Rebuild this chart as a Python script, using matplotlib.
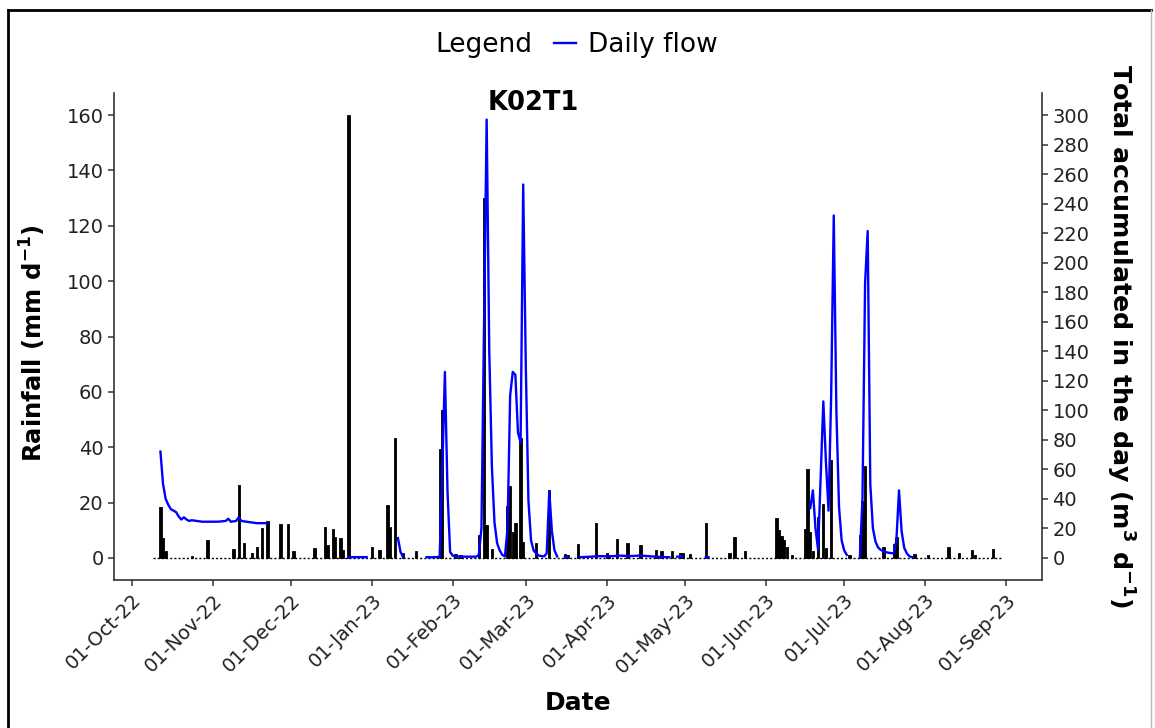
import numpy as np
import pandas as pd
import matplotlib
matplotlib.use('Agg')
import matplotlib.pyplot as plt
import matplotlib.dates as mdates
from matplotlib.lines import Line2D

plt.rcParams['font.family'] = ['DejaVu Sans']
plt.rcParams['mathtext.default'] = 'regular'

# Precipitação diária (mm/d)
rain_dates = ['2022-10-12', '2022-10-13', '2022-10-14', '2022-10-24', '2022-10-30',
              '2022-11-09', '2022-11-11', '2022-11-13', '2022-11-16', '2022-11-18',
              '2022-11-20', '2022-11-22', '2022-11-27', '2022-11-30', '2022-12-02',
              '2022-12-10', '2022-12-14', '2022-12-15', '2022-12-17', '2022-12-18',
              '2022-12-20', '2022-12-21', '2022-12-23', '2023-01-01', '2023-01-04',
              '2023-01-07', '2023-01-08', '2023-01-10', '2023-01-13', '2023-01-18',
              '2023-01-27', '2023-01-28', '2023-02-02', '2023-02-04', '2023-02-11',
              '2023-02-13', '2023-02-14', '2023-02-16', '2023-02-22', '2023-02-23',
              '2023-02-24', '2023-02-25', '2023-02-27', '2023-02-28', '2023-03-05',
              '2023-03-10', '2023-03-16', '2023-03-17', '2023-03-21', '2023-03-28',
              '2023-04-01', '2023-04-02', '2023-04-05', '2023-04-09', '2023-04-14',
              '2023-04-20', '2023-04-22', '2023-04-26', '2023-04-29', '2023-04-30',
              '2023-05-03', '2023-05-09', '2023-05-18', '2023-05-20', '2023-05-24',
              '2023-06-05', '2023-06-06', '2023-06-07', '2023-06-08', '2023-06-09',
              '2023-06-11', '2023-06-16', '2023-06-17', '2023-06-18', '2023-06-19',
              '2023-06-21', '2023-06-23', '2023-06-24', '2023-06-26', '2023-07-03',
              '2023-07-07', '2023-07-08', '2023-07-09', '2023-07-16', '2023-07-20',
              '2023-07-21', '2023-07-28', '2023-08-02', '2023-08-10', '2023-08-14',
              '2023-08-19', '2023-08-20', '2023-08-27']
rain_mm = [18.4, 7.2, 2.3, 0.8, 6.3,
           3.1, 26.4, 5.3, 1.8, 4.1,
           10.7, 13.5, 12.2, 12.2, 2.6,
           3.5, 11.3, 4.7, 10.5, 7.7,
           7.1, 2.9, 160.0, 4.1, 2.9,
           19.2, 11.3, 43.3, 1.7, 2.3,
           39.3, 53.6, 1.4, 1.0, 8.3,
           130.2, 11.9, 3.1, 18.6, 26.1,
           9.5, 12.6, 43.3, 5.9, 5.5,
           24.4, 1.4, 1.0, 5.1, 12.5,
           1.9, 1.0, 6.9, 5.5, 4.7,
           2.7, 2.3, 2.6, 1.7, 1.9,
           1.4, 12.5, 1.9, 7.5, 2.3,
           14.4, 9.9, 8.0, 6.3, 4.1,
           1.1, 10.5, 32.1, 9.5, 2.6,
           14.7, 19.5, 3.5, 35.5, 1.1,
           8.3, 20.4, 33.3, 3.9, 4.9,
           7.7, 1.4, 1.1, 4.1, 1.7,
           2.9, 1.0, 3.3]

# periodo com registro de chuva (linha de zero)
record_start = '2022-10-09'
record_end = '2023-08-31'

# Vazao diaria (m3/d), nan = sem dado
flow_dates = ['2022-10-12', '2022-10-13', '2022-10-14', '2022-10-15', '2022-10-16',
              '2022-10-17', '2022-10-18', '2022-10-19', '2022-10-20', '2022-10-21',
              '2022-10-22', '2022-10-23', '2022-10-24', '2022-10-26', '2022-10-28',
              '2022-10-31', '2022-11-03', '2022-11-06', '2022-11-07', '2022-11-08',
              '2022-11-10', '2022-11-11', '2022-11-12', '2022-11-14', '2022-11-16',
              '2022-11-18', '2022-11-20', '2022-11-22', '2022-11-23',
              '2022-12-23', '2022-12-26', '2022-12-30', '2022-12-31',
              '2023-01-11', '2023-01-12', '2023-01-13', '2023-01-14',
              '2023-01-22', '2023-01-24', '2023-01-26', '2023-01-27', '2023-01-28',
              '2023-01-29', '2023-01-30', '2023-01-31', '2023-02-01', '2023-02-02',
              '2023-02-06', '2023-02-10', '2023-02-11', '2023-02-12', '2023-02-13',
              '2023-02-14', '2023-02-15', '2023-02-16', '2023-02-17', '2023-02-18',
              '2023-02-19', '2023-02-20', '2023-02-21', '2023-02-22', '2023-02-23',
              '2023-02-24', '2023-02-25', '2023-02-26', '2023-02-27', '2023-02-28',
              '2023-03-01', '2023-03-02', '2023-03-03', '2023-03-04', '2023-03-05',
              '2023-03-06', '2023-03-08', '2023-03-09', '2023-03-10', '2023-03-11',
              '2023-03-12', '2023-03-13', '2023-03-14',
              '2023-03-16', '2023-03-17', '2023-03-18',
              '2023-03-22', '2023-03-26', '2023-03-29', '2023-04-02', '2023-04-06',
              '2023-04-10', '2023-04-14', '2023-04-18', '2023-04-22', '2023-04-25',
              '2023-04-26',
              '2023-04-28', '2023-04-30', '2023-05-01',
              '2023-05-09', '2023-05-10', '2023-05-11',
              '2023-06-18', '2023-06-19', '2023-06-20', '2023-06-21', '2023-06-22',
              '2023-06-23', '2023-06-24', '2023-06-25', '2023-06-26', '2023-06-27',
              '2023-06-28', '2023-06-29', '2023-06-30', '2023-07-01', '2023-07-02',
              '2023-07-03',
              '2023-07-07', '2023-07-08', '2023-07-09', '2023-07-10', '2023-07-11',
              '2023-07-12', '2023-07-13', '2023-07-14', '2023-07-15', '2023-07-17',
              '2023-07-19', '2023-07-20', '2023-07-21', '2023-07-22', '2023-07-23',
              '2023-07-24', '2023-07-25', '2023-07-26', '2023-07-27']
flow_m3 = [72, 50, 40, 36, 33,
           32, 31, 28, 26, 27.5,
           26, 25, 25.5, 25, 24.5,
           24.5, 24.5, 25, 26.5, 24.5,
           25, 27.5, 25, 24.5, 24,
           23.5, 23.5, 23.5, np.nan,
           0.5, 0.5, 0.5, np.nan,
           13.4, 4, 0.5, np.nan,
           0.5, 0.4, 0.5, 1, 60,
           126, 45, 4, 1.5, 1,
           0.8, 0.8, 2, 20, 160,
           297, 140, 62, 24, 10,
           5, 2, 1, 20, 110,
           126, 124, 85, 78, 253,
           130, 39, 12, 5, 3,
           1.5, 1, 3, 45, 18,
           5, 1, np.nan,
           0.5, 0.5, np.nan,
           0.5, 0.8, 1.2, 1.0, 1.5,
           1.2, 1.6, 1.0, 0.6, 0.4,
           np.nan,
           0.8, 1.2, np.nan,
           0.5, 0.5, np.nan,
           33.7, 45.7, 20, 5.4, 55,
           106, 65, 32, 110, 232,
           100, 35, 12, 5, 2,
           np.nan,
           1, 40, 186, 221.5, 50,
           20, 11, 7, 5.4, 3.8,
           3.2, 3, 12, 45.7, 18,
           6.8, 3, 1, 0.5]

title = 'K02T1'
k = 300 / 160  # escala do eixo secundario

fig = plt.figure(figsize=(11.55, 7.28), dpi=100)
ax = fig.add_axes([114 / 1155, 1 - 580 / 728, (1042 - 114) / 1155, (580 - 93) / 728])

ax.bar(pd.to_datetime(rain_dates), rain_mm, width=0.9, color='black',
       edgecolor='black', linewidth=0.6, zorder=2)
ax.plot(pd.to_datetime([record_start, record_end]), [0, 0], color='black',
        lw=1.0, dashes=(1.5, 1.5), zorder=1)

ax2 = ax.twinx()
line, = ax2.plot(pd.to_datetime(flow_dates), flow_m3, color='blue', lw=1.7)

ax.set_ylim(-8, 168)
ax2.set_ylim(-8 * k, 168 * k)
ax.set_xlim(pd.Timestamp('2022-09-24 05:00'), pd.Timestamp('2023-09-14 19:00'))
ax.set_yticks(range(0, 161, 20))
ax2.set_yticks(range(0, 301, 20))

ax.xaxis.set_major_locator(mdates.MonthLocator())
ax.xaxis.set_major_formatter(mdates.DateFormatter('%d-%b-%y'))
for lbl in ax.get_xticklabels():
    lbl.set_rotation(45)
    lbl.set_ha('right')
    lbl.set_rotation_mode('anchor')

for a in (ax, ax2):
    a.spines['top'].set_visible(False)
    a.tick_params(labelsize=14, labelcolor='#222222', color='#333333',
                  length=4, width=1.1)
    for s in a.spines.values():
        s.set_color('#333333')
        s.set_linewidth(1.2)
ax.spines['right'].set_visible(False)
ax2.spines['left'].set_visible(False)
ax2.spines['bottom'].set_visible(False)

fig.text(33 / 1155, 1 - 343 / 728, 'Rainfall (mm d$^{-1}$)', rotation=90,
         ha='center', va='center', fontsize=17.5, fontweight='bold')
fig.text(1120 / 1155, 1 - 336 / 728, 'Total accumulated in the day (m$^{3}$ d$^{-1}$)',
         rotation=270, ha='center', va='center', fontsize=18.3, fontweight='bold')
fig.text(578 / 1155, 1 - 703 / 728, 'Date', ha='center', va='center',
         fontsize=18, fontweight='bold')
fig.text(533 / 1155, 1 - 103 / 728, title, ha='center', va='center',
         fontsize=18.5, fontweight='bold')

# legenda no topo
fig.text(532 / 1155, 1 - 45 / 728, 'Legend', ha='right', va='center', fontsize=19)
fig.legend([line], ['Daily flow'], loc='center left',
           bbox_to_anchor=(554 / 1155, 1 - 45 / 728), frameon=False, fontsize=19,
           handlelength=0.85, handletextpad=0.45, borderpad=0, borderaxespad=0)

# moldura da imagem
fig.add_artist(Line2D([8 / 1155, 8 / 1155], [0, 1 - 10 / 728], color='black', lw=2,
                      transform=fig.transFigure))
fig.add_artist(Line2D([8 / 1155, 1151 / 1155], [1 - 10 / 728, 1 - 10 / 728],
                      color='black', lw=2, transform=fig.transFigure))
fig.add_artist(Line2D([1151 / 1155, 1151 / 1155], [0, 1 - 10 / 728], color='#bbbbbb',
                      lw=1, transform=fig.transFigure))

fig.savefig('out.png', dpi=100)
